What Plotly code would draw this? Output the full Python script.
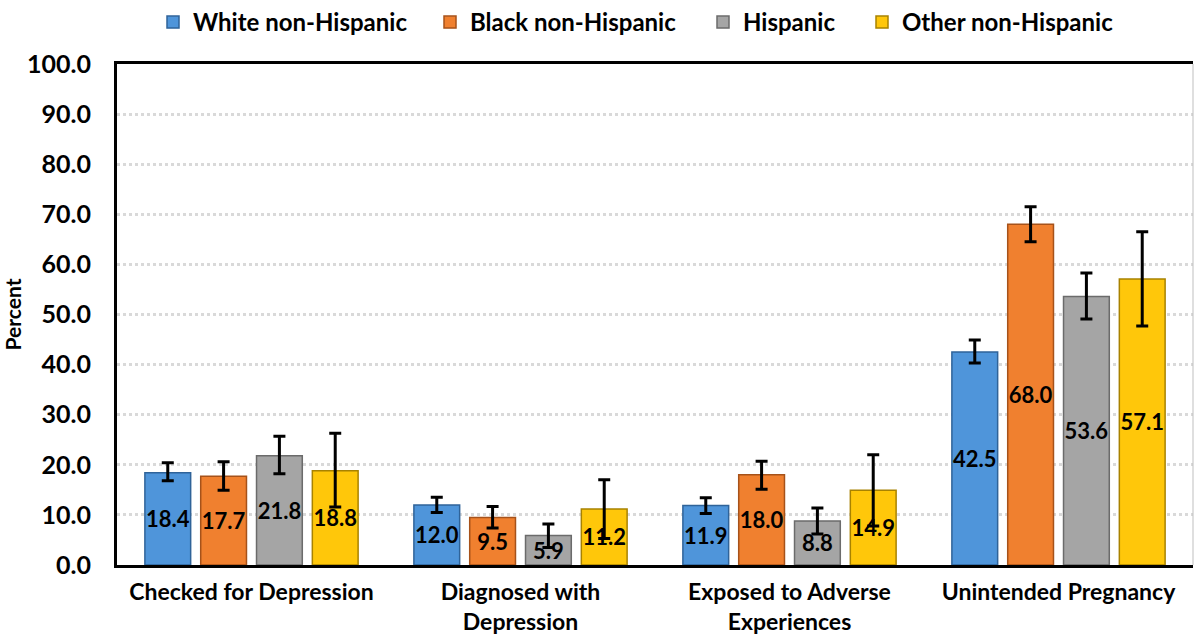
import plotly.graph_objects as go

# Data
categories = [
    "Checked for Depression",
    "Diagnosed with<br>Depression",
    "Exposed to Adverse<br>Experiences",
    "Unintended Pregnancy",
]
groups = ["White non-Hispanic", "Black non-Hispanic", "Hispanic", "Other non-Hispanic"]

white = [18.4, 12.0, 11.9, 42.5]
black = [17.7, 9.5, 18.0, 68.0]
hispanic = [21.8, 5.9, 8.8, 53.6]
other = [18.8, 11.2, 14.9, 57.1]

white_hi = [20.4, 13.5, 13.4, 44.9]
white_lo = [16.8, 10.5, 10.3, 40.3]
black_hi = [20.6, 11.7, 20.7, 71.5]
black_lo = [14.9, 7.4, 15.1, 64.5]
hispanic_hi = [25.7, 8.2, 11.4, 58.3]
hispanic_lo = [18.2, 3.5, 6.2, 49.1]
other_hi = [26.3, 17.0, 22.0, 66.5]
other_lo = [11.6, 5.3, 7.8, 47.7]

COLORS = {
    "White non-Hispanic": ("#4F95DA", "#2F6399"),
    "Black non-Hispanic": ("#F0802F", "#A6521A"),
    "Hispanic": ("#A5A5A5", "#6B6B6B"),
    "Other non-Hispanic": ("#FFC70A", "#A88200"),
}

FONT = "Lato, 'DejaVu Sans', sans-serif"

series = [
    (groups[0], white, white_hi, white_lo),
    (groups[1], black, black_hi, black_lo),
    (groups[2], hispanic, hispanic_hi, hispanic_lo),
    (groups[3], other, other_hi, other_lo),
]

# one legend per series so the entries sit where the original spaced them
legend_ids = ["legend", "legend2", "legend3", "legend4"]
legend_x = [153, 430, 703, 862]

fig = go.Figure()
for (name, vals, hi, lo), lid in zip(series, legend_ids):
    fill, edge = COLORS[name]
    fig.add_trace(
        go.Bar(
            name=name,
            legend=lid,
            x=categories,
            y=vals,
            marker=dict(color=fill, line=dict(color=edge, width=1.5)),
            text=[f"{v:.1f}" for v in vals],
            textposition="inside",
            insidetextanchor="middle",
            constraintext="none",
            textangle=0,
            textfont=dict(family=FONT, size=22, color="black", weight="bold"),
            error_y=dict(
                type="data",
                symmetric=False,
                array=[h - v for h, v in zip(hi, vals)],
                arrayminus=[v - l for v, l in zip(vals, lo)],
                color="black",
                thickness=3,
                width=6,
            ),
        )
    )

legends = {}
for lid, px in zip(legend_ids, legend_x):
    legends[lid] = dict(
        orientation="h",
        xref="container",
        yref="container",
        x=px / 1194,
        xanchor="left",
        y=1.0,
        yanchor="top",
        bgcolor="rgba(0,0,0,0)",
        font=dict(family=FONT, size=24, color="black", weight="bold"),
    )

fig.update_layout(
    width=1194,
    height=637,
    paper_bgcolor="white",
    plot_bgcolor="white",
    font=dict(family=FONT, size=24, color="black", weight="bold"),
    margin=dict(l=117, r=1, t=64, b=72),
    barmode="group",
    bargap=0.17,
    bargroupgap=0.18,
    showlegend=True,
    xaxis=dict(
        showline=True,
        linecolor="black",
        linewidth=3,
        mirror=True,
        ticks="",
        automargin=False,
        ticklabelstandoff=4,
        tickfont=dict(family=FONT, size=23, weight="bold"),
    ),
    yaxis=dict(
        range=[0, 100],
        dtick=10,
        tickformat=".1f",
        showline=True,
        linecolor="black",
        linewidth=3,
        showgrid=True,
        gridcolor="#D9D9D9",
        gridwidth=2.5,
        griddash="dot",
        zeroline=False,
        ticks="",
        automargin=False,
        ticklabelstandoff=18,
        tickfont=dict(family=FONT, size=25, weight="bold"),
        title=dict(text="Percent", font=dict(family=FONT, size=21, weight="bold"), standoff=8),
    ),
    shapes=[
        dict(type="line", xref="paper", yref="paper", x0=1, x1=1, y0=0, y1=1,
             line=dict(color="#BFBFBF", width=1)),
    ],
    **legends,
)

# drop the browser's default body margin so the figure fills the window
fig.write_html(
    "out.html",
    config={"displayModeBar": False},
    post_script="document.body.style.margin='0';",
)
